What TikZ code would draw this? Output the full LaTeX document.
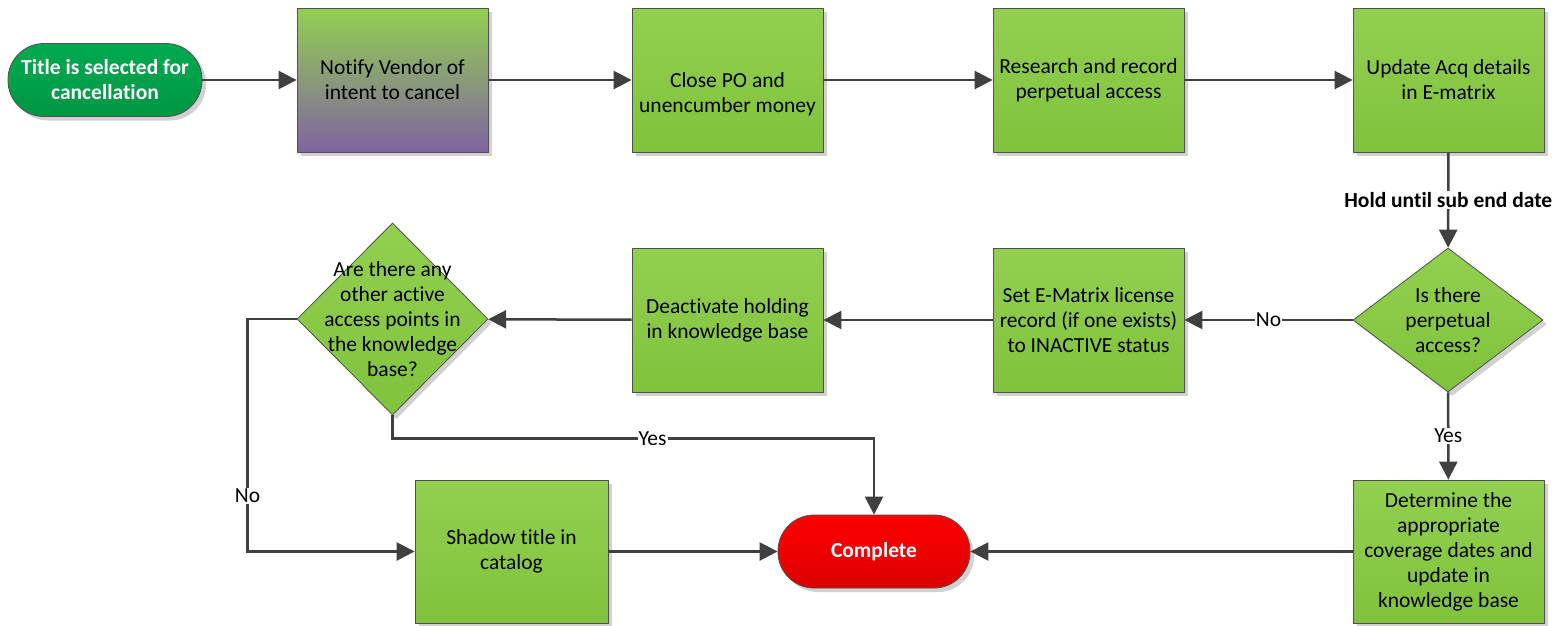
\documentclass[tikz,border=0pt]{standalone}
\usepackage{fontspec}
\setmainfont{Carlito}[Ligatures=NoCommon]
\usetikzlibrary{arrows.meta,shapes.geometric,shadows}

\definecolor{lineGrey}{RGB}{64,64,64}
\definecolor{edgeGrey}{RGB}{80,80,80}
\definecolor{boxTop}{RGB}{146,208,80}
\definecolor{boxBot}{RGB}{128,194,60}
\definecolor{vendPurple}{RGB}{128,100,162}
\definecolor{startTop}{RGB}{0,170,80}
\definecolor{startBot}{RGB}{0,150,68}
\definecolor{doneTop}{RGB}{255,0,0}
\definecolor{doneBot}{RGB}{218,0,0}

\tikzset{
	txt/.style={font=\fontsize{21.5}{25}\selectfont, align=center},
	boxshadow/.style={drop shadow={shadow xshift=4pt,shadow yshift=-4pt,fill=black!18,opacity=1}},
	box/.style={txt, draw=edgeGrey, line width=0.8pt, inner sep=0pt,
		minimum width=191pt, minimum height=144pt,
		top color=boxTop, bottom color=boxBot, boxshadow},
	decision/.style={box, diamond, aspect=1},
	terminal/.style={txt, draw=edgeGrey, line width=0.8pt, inner sep=0pt,
		rounded corners=36pt, minimum height=73pt, text=white,
		font=\fontsize{21.5}{25}\selectfont\bfseries, boxshadow},
	flow/.style={draw=lineGrey, line width=2.5pt, -{Triangle[length=18pt,width=18pt]}},
	lbl/.style={txt, fill=white, inner sep=1pt},
}

\begin{document}
\begin{tikzpicture}[x=1pt,y=-1pt]
	\useasboundingbox (0,0) rectangle (1557,625);
	\pgfmathsetmacro{\rowA}{80};
	\pgfmathsetmacro{\rowB}{320};
	\pgfmathsetmacro{\rowC}{551.5};

	% top row
	\node[terminal, minimum width=194pt, top color=startTop, bottom color=startBot] (start) at (105,\rowA) {Title is selected for\\cancellation};
	\node[box, bottom color=vendPurple] (notify) at (392.5,\rowA) {Notify Vendor of\\intent to cancel};
	\node[box, label={[txt,yshift=-14pt]center:Close PO and\\unencumber money}] (closePO) at (727.5,\rowA) {};
	\node[box] (research) at (1088.5,\rowA) {Research and record\\perpetual access};
	\node[box] (updAcq) at (1448.5,\rowA) {Update Acq details\\in E-matrix};

	% middle row
	\node[decision, minimum width=190pt, minimum height=144pt,
		label={[txt]center:Is there\\perpetual\\access?}] (isPerp) at (1448,\rowB) {};
	\node[box] (setInact) at (1088.5,\rowB) {Set E-Matrix license\\record (if one exists)\\to INACTIVE status};
	\node[box] (deact) at (727.5,\rowB) {Deactivate holding\\in knowledge base};
	\node[decision, minimum width=191pt, minimum height=192pt,
		label={[txt]center:Are there any\\other active\\access points in\\the knowledge\\base?}] (anyOther) at (392.5,319) {};

	% bottom row
	\node[box, minimum width=193pt, minimum height=143pt] (shadowT) at (511.5,\rowC) {Shadow title in\\catalog};
	\node[terminal, minimum width=192pt, top color=doneTop, bottom color=doneBot] (done) at (874,\rowC) {Complete};
	\node[box, minimum height=143pt] (coverage) at (1448.5,\rowC) {Determine the\\appropriate\\coverage dates and\\update in\\knowledge base};

	% connectors
	\draw[flow] (start) -- (notify);
	\draw[flow] (notify) -- (closePO);
	\draw[flow] (closePO) -- (research);
	\draw[flow] (research) -- (updAcq);
	\draw[flow] (updAcq) -- node[lbl, font=\fontsize{21.5}{25}\selectfont\bfseries] {Hold until sub end date} (isPerp);
	\draw[flow] (isPerp) -- node[lbl] {No} (setInact);
	\draw[flow] (setInact) -- (deact);
	\draw[flow] (deact) -- (anyOther);
	\draw[flow] (anyOther.south) -- ++(0,23) -| node[lbl, pos=0.27] {Yes} (done.north);
	\draw[flow] (anyOther.west) -- ++(-49,0) |- node[lbl, pos=0.38] {No} (shadowT.west);
	\draw[flow] (shadowT) -- (done);
	\draw[flow] (isPerp) -- node[lbl] {Yes} (coverage);
	\draw[flow] (coverage) -- (done);
\end{tikzpicture}
\end{document}
